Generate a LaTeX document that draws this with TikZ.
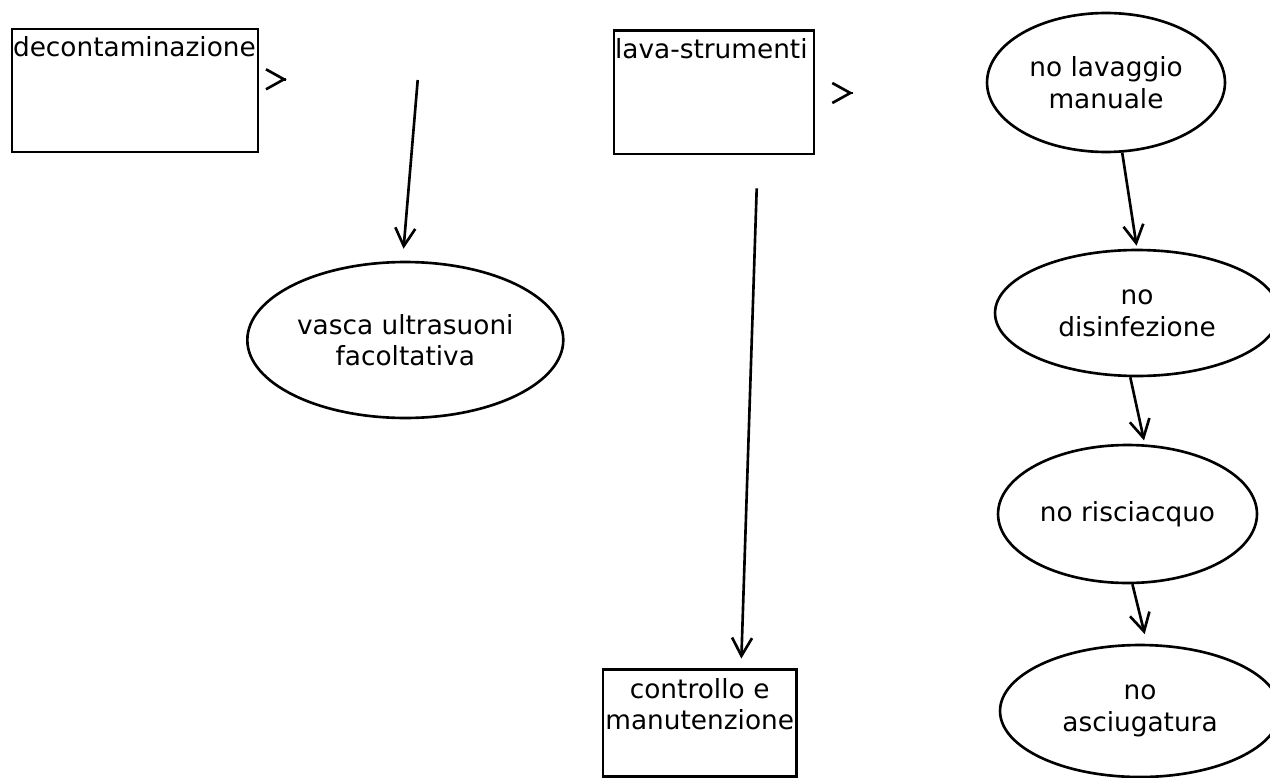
\documentclass[tikz,border=0pt]{standalone}
\usepackage{fontspec}
\setmainfont{DejaVu Sans}
\usetikzlibrary{shapes.geometric}
\usetikzlibrary{arrows.meta}

\tikzset{
  stepbox/.style={draw, line width=1.5pt, anchor=north west, inner xsep=0.02cm, inner ysep=0pt,
    font=\fontsize{15}{18}\selectfont},
  stepoval/.style={draw, ellipse, line width=1.5pt, inner sep=0pt, align=center,
    font=\fontsize{15}{18}\selectfont},
  flow/.style={line width=1.5pt, -{Straight Barb[length=0.36cm, width=0.4cm]}}
}

\begin{document}
\begin{tikzpicture}[x=0.02cm, y=-0.02cm]
  \useasboundingbox (0,0) rectangle (1270,777);

  \node[stepbox, align=left, text width=4.88cm, text height=0.546cm, text depth=1.914cm]
    (decon) at (10.7,27.7) {decontaminazione};
  \node[stepbox, align=left, text width=3.96cm, text height=0.554cm, text depth=1.92cm]
    (lava) at (612.7,29) {\mbox{lava-strumenti}};
  \node[stepbox, align=center, text width=3.83cm, text height=0.574cm, text depth=1.566cm]
    (ctrl) at (601.7,668) {controllo e\\manutenzione};

  \node[stepoval, minimum width=6.32cm, minimum height=3.12cm] (vasca) at (405.3,340) {vasca ultrasuoni\\facoltativa};

  \node[stepoval, minimum width=4.76cm, minimum height=2.78cm] (lavaggio) at (1106,82.5) {no lavaggio\\manuale};
  \node[stepoval, minimum width=5.68cm, minimum height=2.52cm] (disinf) at (1137,313) {no\\disinfezione};
  \node[stepoval, minimum width=5.18cm, minimum height=2.76cm] (risc) at (1127.5,514) {no risciacquo};
  \node[stepoval, minimum width=5.6cm, minimum height=2.64cm] (asciug) at (1140,711) {no\\asciugatura};

  \coordinate (deconout) at (286.2,79.3);
  \coordinate (deconoutend) at (286.7,79.3);
  \coordinate (lavaout) at (852.5,93);
  \coordinate (lavaoutend) at (853,93);
  \coordinate (vascain) at (417.7,80);
  \coordinate (ctrlin) at (756.7,188.3);

  \draw[flow] (deconout) -- (deconoutend);
  \draw[flow] (lavaout) -- (lavaoutend);

  \draw[flow, shorten >=0.24cm] (vascain) -- (vasca.92);
  \draw[flow, shorten >=0.19cm] (ctrlin) -- (ctrl.53);

  \draw[flow, shorten >=0.06cm] (lavaggio.283) -- (disinf.north);
  \draw[flow, shorten >=0.08cm] (disinf.264) -- (risc.76);
  \draw[flow, shorten >=0.2cm] (risc.274) -- (asciug.84);
\end{tikzpicture}
\end{document}
